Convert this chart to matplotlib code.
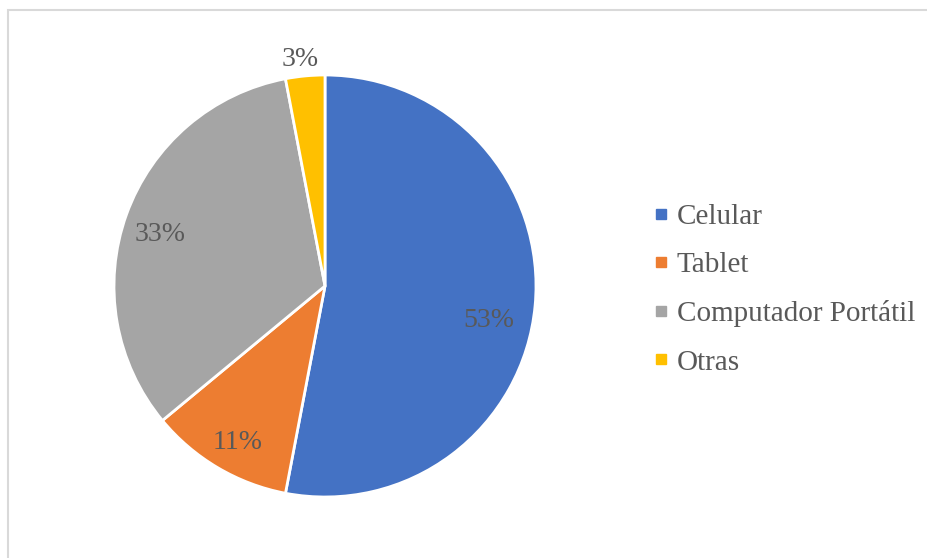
import matplotlib.pyplot as plt
from matplotlib.lines import Line2D
from matplotlib.patches import Rectangle
import numpy as np

# datos
categorias = ["Celular", "Tablet", "Computador Portátil", "Otras"]
porcentajes = [53, 11, 33, 3]
colores = ["#4472C4", "#ED7D31", "#A5A5A5", "#FFC000"]

plt.rcParams['font.family'] = ['Liberation Serif', 'DejaVu Serif']
gris = "#595959"

fig = plt.figure(figsize=(9.28, 5.58), dpi=100)

# marco del grafico
fig.patches.append(Rectangle((8/928, -0.1), 1.2, 1 - 10/558 + 0.1, transform=fig.transFigure,
                             fill=False, edgecolor="#D9D9D9", linewidth=1.5))

cx, cy, r = 325, 286, 211
ax = fig.add_axes([(cx - r)/928, (558 - cy - r)/558, 2*r/928, 2*r/558])
wedges, _ = ax.pie(porcentajes, colors=colores, startangle=90, counterclock=False,
                   wedgeprops=dict(edgecolor="white", linewidth=2))
ax.set_xlim(-1, 1)
ax.set_ylim(-1, 1)
ax.set_aspect('equal')

# etiquetas de porcentaje (distancia radial y ajuste de angulo)
dist = [0.79, 0.84, 0.82, 1.09]
ajuste = [-5.7, 0.9, 1.7, 0.8]
for w, p, d, a in zip(wedges, porcentajes, dist, ajuste):
    ang = np.deg2rad((w.theta1 + w.theta2) / 2 + a)
    ax.text(d*np.cos(ang), d*np.sin(ang) - 0.01, f"{p}%", ha="center", va="center",
            fontsize=20, color=gris, clip_on=False)

handles = [Line2D([], [], marker='s', linestyle='', color=c, markersize=7.5) for c in colores]
fig.legend(handles, categorias, loc="center left", bbox_to_anchor=(0.687, 0.481),
           frameon=False, fontsize=21, labelcolor=gris, handlelength=0.6,
           handletextpad=0.25, labelspacing=0.75, borderpad=0)

plt.savefig("out.png", dpi=100)
